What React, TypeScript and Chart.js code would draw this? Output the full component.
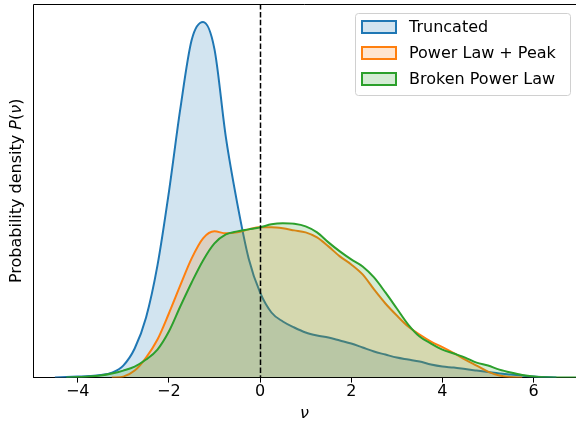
import React, { useEffect, useRef } from "react";
import { Chart, registerables } from "chart.js";

Chart.register(...registerables);

const nu = [
  -4.75, -4.5, -4.25, -4.0, -3.75, -3.5, -3.25, -3.0, -2.75, -2.5, -2.25, -2.0,
  -1.75, -1.5, -1.25, -1.0, -0.75, -0.5, -0.25, 0.0, 0.25, 0.5, 0.75, 1.0,
  1.25, 1.5, 1.75, 2.0, 2.25, 2.5, 2.75, 3.0, 3.25, 3.5, 3.75, 4.0,
  4.25, 4.5, 4.75, 5.0, 5.25, 5.5, 5.75, 6.0, 6.25, 6.5, 6.75, 7.0,
];

const truncated = [
  null, 0.0, 0.0005, 0.001, 0.0015, 0.0025, 0.005, 0.012, 0.029, 0.06, 0.112, 0.185,
  0.268, 0.337, 0.355, 0.328, 0.24, 0.174, 0.119, 0.085, 0.065, 0.056, 0.05, 0.045,
  0.042, 0.04, 0.037, 0.034, 0.03, 0.026, 0.023, 0.02, 0.018, 0.016, 0.013, 0.011,
  0.01, 0.0085, 0.007, 0.0055, 0.004, 0.003, 0.002, 0.001, 0.0005, 0.0, null, null,
];

const powerLawPeak = [
  null, null, null, null, null, null, 0.0, 0.001, 0.007, 0.02, 0.038, 0.064,
  0.092, 0.119, 0.139, 0.146, 0.144, 0.145, 0.148, 0.15, 0.15, 0.149, 0.147, 0.145,
  0.14, 0.131, 0.121, 0.113, 0.103, 0.088, 0.074, 0.062, 0.051, 0.043, 0.036, 0.0305,
  0.0245, 0.018, 0.012, 0.006, 0.002, 0.0005, 0.0, null, null, null, null, null,
];

const brokenPowerLaw = [
  null, null, 0.0, 0.0005, 0.001, 0.002, 0.004, 0.007, 0.011, 0.018, 0.028, 0.046,
  0.071, 0.095, 0.117, 0.134, 0.143, 0.146, 0.148, 0.15, 0.153, 0.154, 0.1535, 0.151,
  0.145, 0.135, 0.126, 0.118, 0.111, 0.1, 0.085, 0.069, 0.053, 0.041, 0.034, 0.028,
  0.024, 0.02, 0.015, 0.012, 0.008, 0.005, 0.0025, 0.001, 0.0003, 0.0001, 0.0, 0.0,
];

const seriesNames = ["Truncated", "Power Law + Peak", "Broken Power Law"];
const lineColors = ["#1f77b4", "#ff7f0e", "#2ca02c"];
const fillColors = [
  "rgba(31,119,180,0.2)",
  "rgba(255,127,14,0.2)",
  "rgba(44,160,44,0.2)",
];
const xTicks = [-4, -2, 0, 2, 4, 6];

const FONT = '"DejaVu Sans", sans-serif';

const overlayPlugin = {
  id: "overlay",
  afterDatasetsDraw(chart: any) {
    const ctx = chart.ctx;
    const { left, right, top, bottom } = chart.chartArea;
    const x0 = chart.scales.x.getPixelForValue(0);
    ctx.save();
    ctx.strokeStyle = "#000";
    ctx.lineWidth = 1.5;
    ctx.setLineDash([5.5, 2.4]);
    ctx.beginPath();
    ctx.moveTo(Math.round(x0) + 0.5, top);
    ctx.lineTo(Math.round(x0) + 0.5, bottom);
    ctx.stroke();
    ctx.setLineDash([]);
    ctx.strokeStyle = "#000";
    ctx.lineWidth = 1;
    ctx.beginPath();
    ctx.moveTo(left + 0.5, bottom);
    ctx.lineTo(left + 0.5, top + 0.5);
    ctx.lineTo(right, top + 0.5);
    ctx.stroke();
    ctx.restore();
  },
  afterDraw(chart: any) {
    const ctx = chart.ctx;
    const { top, bottom } = chart.chartArea;
    ctx.save();
    const parts: [string, boolean][] = [
      ["Probability density ", false],
      ["P", true],
      ["(", false],
      ["\u03bd", true],
      [")", false],
    ];
    const size = 16;
    let total = 0;
    const widths: number[] = [];
    for (const [t, it] of parts) {
      ctx.font = `${it ? "italic " : ""}${size}px ${FONT}`;
      const w = ctx.measureText(t).width;
      widths.push(w);
      total += w;
    }
    ctx.translate(17, (top + bottom) / 2);
    ctx.rotate(-Math.PI / 2);
    ctx.fillStyle = "#000";
    ctx.textBaseline = "middle";
    ctx.textAlign = "left";
    let cx = -total / 2;
    parts.forEach(([t, it], i) => {
      ctx.font = `${it ? "italic " : ""}${size}px ${FONT}`;
      ctx.fillText(t, cx, 0);
      cx += widths[i];
    });
    ctx.restore();

    ctx.save();
    const lx = 355.5, ly = 13.5, lw = 215, lh = 82, r = 3;
    ctx.beginPath();
    ctx.moveTo(lx + r, ly);
    ctx.lineTo(lx + lw - r, ly);
    ctx.quadraticCurveTo(lx + lw, ly, lx + lw, ly + r);
    ctx.lineTo(lx + lw, ly + lh - r);
    ctx.quadraticCurveTo(lx + lw, ly + lh, lx + lw - r, ly + lh);
    ctx.lineTo(lx + r, ly + lh);
    ctx.quadraticCurveTo(lx, ly + lh, lx, ly + lh - r);
    ctx.lineTo(lx, ly + r);
    ctx.quadraticCurveTo(lx, ly, lx + r, ly);
    ctx.closePath();
    ctx.fillStyle = "rgba(255,255,255,0.8)";
    ctx.fill();
    ctx.strokeStyle = "#d0d0d0";
    ctx.lineWidth = 1;
    ctx.stroke();
    ctx.font = `16px ${FONT}`;
    ctx.textBaseline = "middle";
    ctx.textAlign = "left";
    const rowsY = [27, 53, 79];
    chart.data.datasets.forEach((ds: any, i: number) => {
      const y = rowsY[i];
      ctx.fillStyle = "#fff";
      ctx.fillRect(362, y - 6, 34, 12);
      ctx.fillStyle = ds.backgroundColor;
      ctx.fillRect(362, y - 6, 34, 12);
      ctx.strokeStyle = ds.borderColor;
      ctx.lineWidth = 2;
      ctx.strokeRect(362, y - 6, 34, 12);
      ctx.fillStyle = "#000";
      ctx.fillText(ds.label, 409, y + 1);
    });
    ctx.restore();
  },
};

export default function App() {
  const ref = useRef<HTMLCanvasElement | null>(null);
  useEffect(() => {
    document.body.style.margin = "0";
    if (!ref.current) return;
    const seriesVals = [truncated, powerLawPeak, brokenPowerLaw];
    const chart = new Chart(ref.current, {
      type: "line",
      data: {
        datasets: seriesVals.map((vals, i) => ({
          label: seriesNames[i],
          data: nu.map((x, j) => ({ x, y: vals[j] })),
          borderColor: lineColors[i],
          backgroundColor: fillColors[i],
          borderWidth: 2,
          pointRadius: 0,
          fill: "origin",
          cubicInterpolationMode: "monotone",
          spanGaps: false,
          order: 3 - i,
        })),
      },
      options: {
        animation: false,
        responsive: false,
        maintainAspectRatio: false,
        layout: { padding: { left: 33, top: 4, right: 0, bottom: 0 } },
        plugins: {
          legend: { display: false },
          tooltip: { enabled: false },
        },
        scales: {
          x: {
            type: "linear",
            min: -4.98,
            max: 6.93,
            afterBuildTicks: (axis: any) => {
              axis.ticks = xTicks.map((v) => ({ value: v }));
            },
            ticks: {
              color: "#000",
              font: { family: FONT, size: 16 },
              padding: 0,
              maxRotation: 0,
              autoSkip: false,
              callback: (v: any) => (Number(v) < 0 ? "\u2212" + Math.abs(Number(v)) : String(v)),
            },
            grid: {
              display: true,
              drawOnChartArea: false,
              drawTicks: true,
              tickLength: 5,
              color: "#000",
              tickColor: "#000",
            },
            border: { display: true, color: "#000", width: 1 },
            title: {
              display: true,
              text: "\u03bd",
              color: "#000",
              font: { family: FONT, size: 16, style: "italic" },
              padding: { top: 2, bottom: 2 },
            },
          },
          y: {
            display: false,
            min: 0,
            max: 0.373,
          },
        },
      },
      plugins: [overlayPlugin],
    } as any);
    return () => chart.destroy();
  }, []);
  return (
    <div style={{ width: 576, height: 425 }}>
      <canvas ref={ref} width={576} height={425} />
    </div>
  );
}
